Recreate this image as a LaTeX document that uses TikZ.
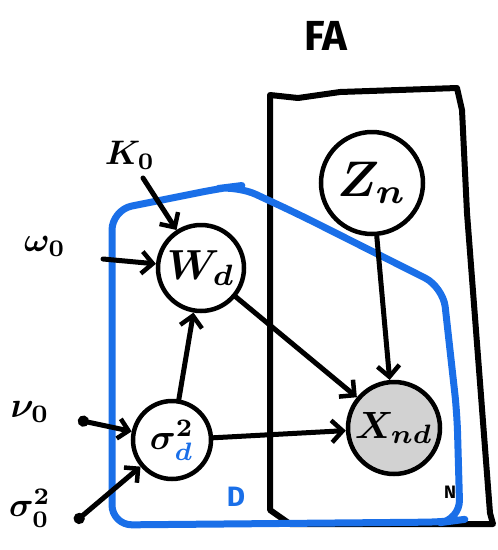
\documentclass[tikz,border=0pt]{standalone}
\usepackage{fontspec}
\newfontfamily\handfont{Fira Sans}
\usetikzlibrary{arrows.meta}
\definecolor{plateblue}{HTML}{1A6FE8}
\definecolor{obsgray}{HTML}{D2D2D2}
\tikzset{
  ink/.style={line width=5pt, line cap=round, line join=round},
  var/.style={circle, draw, line width=4.5pt, minimum size=#1, inner sep=0pt},
  edge/.style={ink, -{Straight Barb[length=11pt,width=22pt,line width=4.5pt]}},
  dotedge/.style={ink, {Circle[length=11pt]}-{Straight Barb[length=10pt,width=20pt,line width=4.5pt]}},
  hyper/.style={inner sep=0pt},
}
\begin{document}
\begin{tikzpicture}[x=1pt, y=-1pt]
\useasboundingbox (0,0) rectangle (498,550);

% model title
\node[font=\handfont\bfseries\fontsize{42}{42}\selectfont] (title) at (326,36) {FA};

% outer plate over N
\draw[ink, line width=6pt] (270,95) -- (298,98) -- (340,92) -- (457,88) -- (462,110)
  -- (467,213) -- (490,513) -- (493,524) -- (290,524) -- (270,510) -- cycle;
\node[font=\handfont\bfseries\fontsize{18}{18}\selectfont] (nlab) at (450,492) {N};

% inner plate over D
\draw[plateblue, line width=7pt, line cap=round, line join=round, rounded corners=20pt]
  (112,525) -- (112,210) -- (222,188) -- (238,186) -- (300,215) -- (443,287)
  -- (457,413) -- (460,520) -- (445,522) -- cycle;
\node[text=plateblue, font=\handfont\bfseries\fontsize{28}{28}\selectfont] (dlab) at (236,497) {D};

% random variables
\node[var=102pt] (z) at (372,183) {\scalebox{5}{\boldmath$Z_n$}};
\node[var=86pt] (w) at (201,268) {\scalebox{4.2}{\boldmath$W_d$}};
\node[var=78pt] (s) at (172,440) {\scalebox{3.6}{\boldmath$\sigma^2_{\color{plateblue}d}$}};
\node[var=92pt, fill=obsgray] (x) at (394,428) {\scalebox{3.8}{\boldmath$X_{nd}$}};

% hyperparameters
\node[hyper] (k0) at (130,155) {\scalebox{3.4}{\boldmath$K_0$}};
\node[hyper] (w0) at (45,246) {\scalebox{3.4}{\boldmath$\omega_0$}};
\node[hyper] (v0) at (30,412) {\scalebox{3.6}{\boldmath$\nu_0$}};
\node[hyper] (s0) at (30,508) {\scalebox{3.4}{\boldmath$\sigma^2_0$}};
\coordinate (k0a) at (143,178);
\coordinate (w0a) at (103,259);
\coordinate (v0a) at (78,420);
\coordinate (s0a) at (75,522);

% dependencies
\draw[edge] (k0a) -- (w);
\draw[edge] (w0a) -- (w);
\draw[edge] (s) -- (w);
\draw[edge] (w) -- (x);
\draw[edge] (s) -- (x);
\draw[edge] (z) -- (x);
\draw[dotedge] (v0a) -- (s);
\draw[dotedge] (s0a) -- (s);
\end{tikzpicture}
\end{document}
